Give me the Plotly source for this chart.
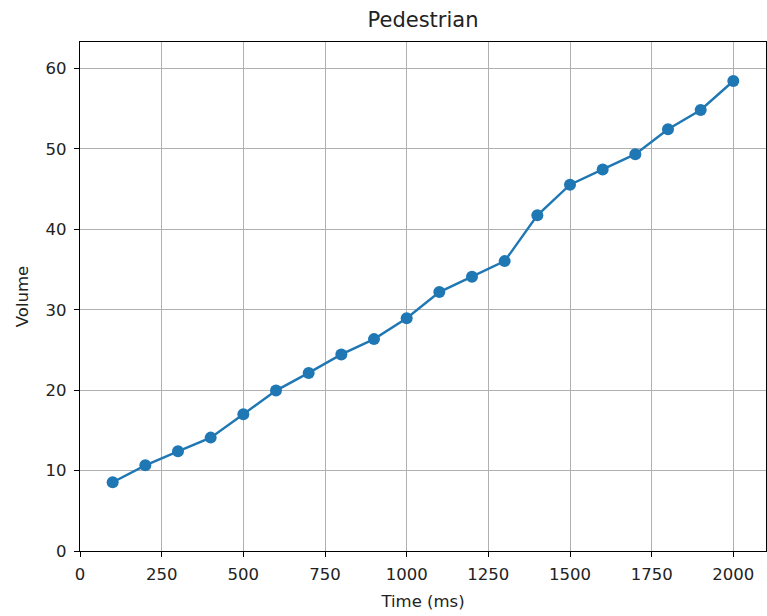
import plotly.graph_objects as go

# Pedestrian volume over time
time_ms = [100, 200, 300, 400, 500, 600, 700, 800, 900, 1000,
           1100, 1200, 1300, 1400, 1500, 1600, 1700, 1800, 1900, 2000]
volume = [8.55, 10.65, 12.4, 14.1, 17.0, 19.95, 22.15, 24.45, 26.35, 28.95,
          32.2, 34.1, 36.05, 41.75, 45.55, 47.45, 49.35, 52.45, 54.85, 58.45]

x_ticks = [0, 250, 500, 750, 1000, 1250, 1500, 1750, 2000]
y_ticks = [0, 10, 20, 30, 40, 50, 60]

BLUE = "#1f77b4"
FONT = "DejaVu Sans"
TEXT = "#222222"

fig = go.Figure(
    go.Scatter(
        x=time_ms,
        y=volume,
        mode="lines+markers",
        line=dict(color=BLUE, width=2.4),
        marker=dict(color=BLUE, size=12),
        showlegend=False,
    )
)

axis_common = dict(
    showgrid=True,
    gridcolor="#b0b0b0",
    gridwidth=1.1,
    showline=True,
    linecolor="black",
    linewidth=1.3,
    mirror=True,
    ticks="outside",
    ticklen=5,
    tickwidth=1.2,
    tickcolor="black",
    tickfont=dict(family=FONT, size=16.5, color=TEXT),
    zeroline=False,
)

fig.update_layout(
    width=767,
    height=616,
    margin=dict(l=80, r=1, t=42, b=65),
    paper_bgcolor="white",
    plot_bgcolor="white",
    title=dict(
        text="Pedestrian",
        font=dict(family=FONT, size=21, color=TEXT),
        x=(80 + 766) / 2 / 767,
        xanchor="center",
        y=1 - 20 / 616,
        yanchor="middle",
    ),
    xaxis=dict(
        axis_common,
        range=[0, 2100],
        tickvals=x_ticks,
        ticktext=[str(v) for v in x_ticks],
        ticklabelstandoff=3,
        title=dict(text="Time (ms)", font=dict(family=FONT, size=16.5, color=TEXT), standoff=12),
    ),
    yaxis=dict(
        axis_common,
        range=[0, 63.3],
        tickvals=y_ticks,
        ticktext=[str(v) for v in y_ticks],
        ticklabelstandoff=4,
        title=dict(text="Volume", font=dict(family=FONT, size=16.5, color=TEXT), standoff=12),
    ),
)

fig.write_html("out.html")
